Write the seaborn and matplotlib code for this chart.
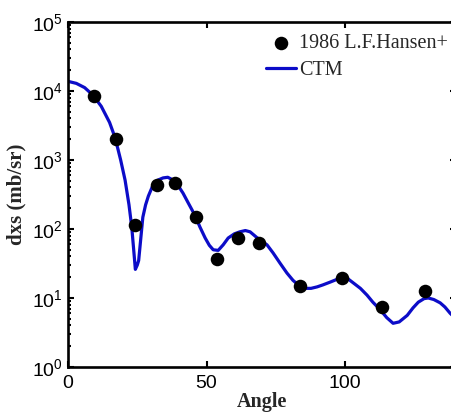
import numpy as np
import pandas as pd
import matplotlib
matplotlib.use("Agg")
import matplotlib.pyplot as plt
import seaborn as sns

# measured points (1986 L.F.Hansen+)
exp_angle = [9.4, 17.3, 24.2, 32.1, 38.6, 46.3, 53.8, 61.4, 69.0, 83.8, 98.9, 113.4, 128.9]
exp_dxs = [8600, 2000, 114, 440, 465, 150, 37, 75, 62, 15, 19.5, 7.4, 12.6]

# CTM curve
ctm_angle = [0, 3, 6, 9, 12, 15, 17, 19, 20.6, 22, 23, 23.8, 24.3, 25, 25.5, 27, 28, 29,
             30.7, 32.5, 34.3, 36, 37.9, 39.7, 41.5, 43.5, 45.8, 47.6, 49.5, 51, 52.4,
             54.2, 56, 57.8, 60, 62, 64, 65.7, 68, 70, 71.8, 74, 76.5, 79, 81.2, 83.5,
             85.6, 87.7, 89.9, 92, 94.6, 97, 99.3, 101, 102.9, 105.5, 107.9, 110, 112.6,
             115, 117.3, 119.5, 122.4, 124.5, 126.4, 128.5, 130, 132, 134.3, 136, 137.9, 140]
ctm_dxs = [13800, 12900, 11200, 8700, 6000, 3500, 2100, 1000, 510, 225, 107, 45, 26, 30,
           35, 148, 224, 300, 436, 513, 550, 562, 513, 427, 331, 234, 158, 107, 74, 58,
           50, 49, 59, 74, 85, 91, 95, 91, 76, 66, 59, 45, 32, 23, 18, 15, 13.8, 13.8,
           14.5, 15.5, 17, 18.6, 19.5, 19, 16.6, 13.8, 11, 8.7, 6.8, 5.2, 4.3, 4.5, 5.6,
           7.2, 8.7, 9.8, 10, 9.5, 8.5, 7.4, 6.0, 5.0]

df_exp = pd.DataFrame({'angle': exp_angle, 'dxs': exp_dxs})
df_ctm = pd.DataFrame({'angle': ctm_angle, 'dxs': ctm_dxs})

sns.set_style("ticks")
plt.rcParams['font.family'] = ['Liberation Sans', 'DejaVu Sans']
plt.rcParams['mathtext.default'] = 'regular'

fig = plt.figure(figsize=(4.51, 4.15), dpi=100)
W, H = 451.0, 415.0
ax = fig.add_axes([68/W, (H-367)/H, 388/W, 345/H])

sns.lineplot(ax=ax, data=df_ctm, x='angle', y='dxs', color='#0c0cc8', linewidth=2.3,
             label='CTM', zorder=2)
sns.scatterplot(ax=ax, data=df_exp, x='angle', y='dxs', color='black', s=95,
                edgecolor='black', linewidth=0, label='1986 L.F.Hansen+', zorder=3)

ax.set_yscale('log')
ax.set_xlim(0, 140)
ax.set_ylim(1, 1e5)
ax.set_xticks([0, 50, 100])
ax.set_yticks([1, 10, 100, 1e3, 1e4, 1e5])

for side in ['top', 'right', 'bottom', 'left']:
    ax.spines[side].set_visible(True)
    ax.spines[side].set_linewidth(1.9)
    ax.spines[side].set_color('black')
ax.tick_params(which='both', direction='in', top=True, right=True, colors='black',
               labelsize=14, width=1.5)
ax.tick_params(which='major', length=4)
ax.tick_params(which='minor', length=2)
ax.tick_params(axis='x', which='major', pad=6)
ax.tick_params(axis='x', which='minor', bottom=False, top=False)

ax.set_xlabel('Angle', fontsize=14.5, fontweight='bold', family=['Liberation Serif'], labelpad=0)
ax.set_ylabel('dxs (mb/sr)', fontsize=15, fontweight='bold', family=['Liberation Serif'], labelpad=4)

handles, labels = ax.get_legend_handles_labels()
order = [labels.index('1986 L.F.Hansen+'), labels.index('CTM')]
leg = ax.legend([handles[i] for i in order], [labels[i] for i in order],
                loc='upper right', bbox_to_anchor=(448/W, 1-34/H), bbox_transform=fig.transFigure,
                frameon=False, prop={'family': 'Liberation Serif', 'size': 14.5},
                handlelength=1.5, handletextpad=0.15, borderpad=0, borderaxespad=0,
                labelspacing=0.4)

fig.savefig('out.png', dpi=100)
